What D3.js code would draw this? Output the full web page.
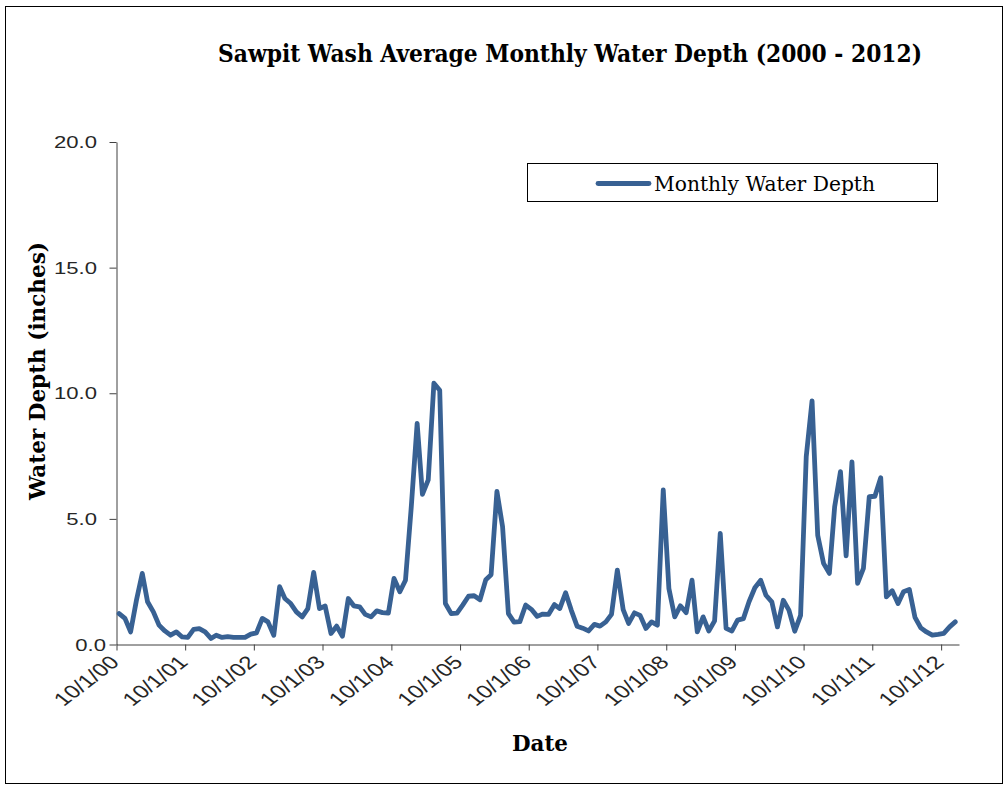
<!DOCTYPE html>
<html>
<head>
<meta charset="utf-8">
<script src="https://cdn.jsdelivr.net/npm/d3@7"></script>
<style>
  html, body { margin: 0; padding: 0; background: #fff; }
  svg { display: block; }
  .tick-label { font-family: "Liberation Sans", Arial, sans-serif; fill: #262626; }
  .serif { font-family: "DejaVu Serif", "Liberation Serif", serif; fill: #000; }
</style>
</head>
<body>
<div id="chart"></div>
<script>
// ---- data: monthly average water depth (inches), water years Oct–Sep ----
const startMonth = '2000-10-15';
const axisStart = '2000-10-01';
const axisEnd = '2013-01-04';
const wy2001 = [1.23, 1.04, 0.50, 1.76, 2.83, 1.70, 1.30, 0.77, 0.54, 0.37, 0.50, 0.30];
const wy2002 = [0.28, 0.60, 0.63, 0.50, 0.24, 0.37, 0.28, 0.31, 0.28, 0.28, 0.28, 0.41];
const wy2003 = [0.46, 1.04, 0.90, 0.37, 2.30, 1.83, 1.63, 1.30, 1.10, 1.43, 2.87, 1.43];
const wy2004 = [1.53, 0.44, 0.73, 0.33, 1.83, 1.54, 1.50, 1.20, 1.10, 1.34, 1.27, 1.25];
const wy2005 = [2.63, 2.10, 2.56, 5.50, 8.80, 5.98, 6.55, 10.40, 10.12, 1.63, 1.23, 1.25];
const wy2006 = [1.57, 1.92, 1.94, 1.78, 2.58, 2.78, 6.09, 4.69, 1.23, 0.89, 0.91, 1.57];
const wy2007 = [1.40, 1.12, 1.21, 1.20, 1.59, 1.43, 2.06, 1.37, 0.73, 0.65, 0.54, 0.80];
const wy2008 = [0.73, 0.90, 1.20, 2.96, 1.39, 0.84, 1.26, 1.16, 0.64, 0.90, 0.77, 6.15];
const wy2009 = [2.23, 1.10, 1.54, 1.27, 2.56, 0.50, 1.10, 0.54, 0.94, 4.42, 0.64, 0.54];
const wy2010 = [0.97, 1.03, 1.70, 2.26, 2.56, 1.96, 1.70, 0.70, 1.76, 1.37, 0.53, 1.16];
const wy2011 = [7.47, 9.70, 4.35, 3.23, 2.83, 5.48, 6.88, 3.53, 7.27, 2.43, 3.03, 5.88];
const wy2012 = [5.90, 6.64, 1.90, 2.14, 1.63, 2.10, 2.19, 1.08, 0.66, 0.50, 0.37, 0.40];
const wy2013 = [0.44, 0.70, 0.90];

const tickLabels = ['10/1/00', '10/1/01', '10/1/02', '10/1/03', '10/1/04', '10/1/05', '10/1/06',
  '10/1/07', '10/1/08', '10/1/09', '10/1/10', '10/1/11', '10/1/12'];
const yTicks = [0, 5, 10, 15, 20];

const chartTitle = 'Sawpit Wash Average Monthly Water Depth (2000 - 2012)';
const seriesName = 'Monthly Water Depth';

// ---- build rows ----
const depths = [].concat(wy2001, wy2002, wy2003, wy2004, wy2005, wy2006, wy2007,
  wy2008, wy2009, wy2010, wy2011, wy2012, wy2013);
const start = new Date(startMonth + 'T00:00:00Z');
const rows = depths.map((v, i) => ({ date: d3.utcMonth.offset(start, i), value: v }));
const parseTick = d3.utcParse('%m/%d/%y');
const tickDates = tickLabels.map(parseTick);

// ---- layout ----
const W = 1006, H = 785;
const plot = { left: 116.5, right: 959, top: 142, bottom: 644.5 };
const stretch = 1.3; // text in the original is widened horizontally

const svg = d3.select('#chart').append('svg')
  .attr('width', W).attr('height', H);

svg.append('rect')
  .attr('x', 5.5).attr('y', 6.5).attr('width', 997).attr('height', 777)
  .attr('fill', '#fff').attr('stroke', '#000').attr('stroke-width', 1);

const x = d3.scaleUtc()
  .domain([new Date(axisStart + 'T00:00:00Z'), new Date(axisEnd + 'T00:00:00Z')])
  .range([plot.left, plot.right]);

const y = d3.scaleLinear()
  .domain([0, 20])
  .range([plot.bottom, plot.top]);

// title
svg.append('text')
  .attr('class', 'serif')
  .attr('x', 218).attr('y', 62)
  .attr('font-size', 24).attr('font-weight', 'bold')
  .attr('textLength', 704).attr('lengthAdjust', 'spacingAndGlyphs')
  .text(chartTitle);

// y axis
const yAxis = svg.append('g')
  .attr('transform', `translate(${plot.left},0)`)
  .call(d3.axisLeft(y).tickValues(yTicks).tickSize(7).tickSizeOuter(0).tickFormat(''));
yAxis.select('.domain').attr('stroke', '#404040');
yAxis.selectAll('.tick line').attr('stroke', '#404040');

svg.append('g').selectAll('text')
  .data(yTicks).join('text')
  .attr('class', 'tick-label')
  .attr('transform', d => `translate(${d === 0 ? 106 : 97},${y(d) + 6}) scale(${stretch},1)`)
  .attr('text-anchor', 'end')
  .attr('font-size', 17)
  .text(d3.format('.1f'));

// x axis
const xAxis = svg.append('g')
  .attr('transform', `translate(0,${plot.bottom})`)
  .call(d3.axisBottom(x).tickValues(tickDates).tickSize(6).tickSizeOuter(0).tickFormat(''));
xAxis.select('.domain').attr('stroke', '#404040');
xAxis.selectAll('.tick line').attr('stroke', '#404040');

svg.append('g').selectAll('text')
  .data(tickDates).join('text')
  .attr('class', 'tick-label')
  .attr('transform', d => `translate(${x(d) + 4},${plot.bottom + 19}) scale(${stretch},1) rotate(-45)`)
  .attr('text-anchor', 'end')
  .attr('font-size', 18.5)
  .text((d, i) => tickLabels[i]);

// axis titles
svg.append('text')
  .attr('class', 'serif')
  .attr('transform', 'translate(45,371) rotate(-90)')
  .attr('text-anchor', 'middle')
  .attr('font-size', 23).attr('font-weight', 'bold')
  .attr('textLength', 258).attr('lengthAdjust', 'spacingAndGlyphs')
  .text('Water Depth (inches)');

svg.append('text')
  .attr('class', 'serif')
  .attr('x', 540).attr('y', 751)
  .attr('text-anchor', 'middle')
  .attr('font-size', 23).attr('font-weight', 'bold')
  .attr('textLength', 56).attr('lengthAdjust', 'spacingAndGlyphs')
  .text('Date');

// series line
const lineColor = '#386193';
const line = d3.line()
  .x(d => x(d.date))
  .y(d => y(d.value));

svg.append('path')
  .datum(rows)
  .attr('d', line)
  .attr('fill', 'none')
  .attr('stroke', lineColor)
  .attr('stroke-width', 4.8)
  .attr('stroke-linejoin', 'round')
  .attr('stroke-linecap', 'round');

// legend
const legend = svg.append('g');
legend.append('rect')
  .attr('x', 527.5).attr('y', 163.5).attr('width', 410).attr('height', 38)
  .attr('fill', '#fff').attr('stroke', '#000').attr('stroke-width', 1);
legend.append('line')
  .attr('x1', 598).attr('x2', 649).attr('y1', 183.5).attr('y2', 183.5)
  .attr('stroke', lineColor).attr('stroke-width', 4.8).attr('stroke-linecap', 'round');
legend.append('text')
  .attr('class', 'serif')
  .attr('x', 654).attr('y', 191)
  .attr('font-size', 20)
  .attr('textLength', 221).attr('lengthAdjust', 'spacingAndGlyphs')
  .attr('fill', '#222')
  .text(seriesName);
</script>
</body>
</html>
